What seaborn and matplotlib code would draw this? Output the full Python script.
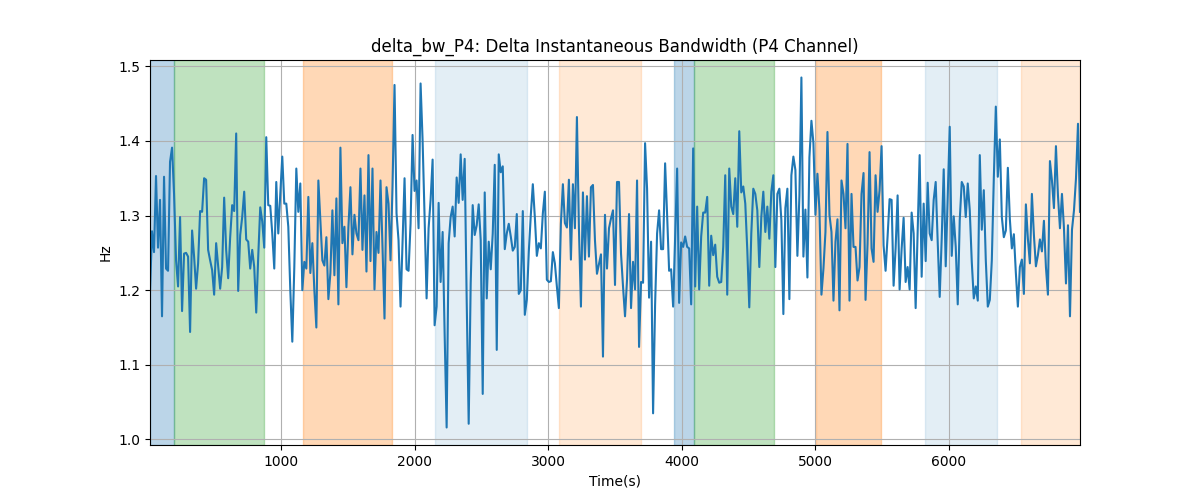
import matplotlib
matplotlib.use('Agg')
import matplotlib.pyplot as plt
import numpy as np
import seaborn as sns

# delta instantaneous bandwidth, P4 channel
bw_hz = [
    1.198, 1.279, 1.251, 1.353, 1.257, 1.321, 1.165, 1.352, 1.229, 1.226,
    1.372, 1.391, 1.329, 1.240, 1.205, 1.298, 1.172, 1.249, 1.250, 1.245,
    1.144, 1.280, 1.245, 1.202, 1.236, 1.306, 1.305, 1.350, 1.348, 1.254,
    1.240, 1.227, 1.194, 1.263, 1.233, 1.202, 1.231, 1.324, 1.254, 1.216,
    1.271, 1.314, 1.306, 1.410, 1.199, 1.274, 1.298, 1.332, 1.268, 1.265,
    1.229, 1.254,
    1.231, 1.170, 1.245, 1.311, 1.292, 1.257, 1.405, 1.314, 1.313, 1.276,
    1.229, 1.345, 1.276, 1.329, 1.379, 1.316, 1.316, 1.285, 1.200, 1.131,
    1.231, 1.363, 1.305, 1.343, 1.200, 1.238, 1.229, 1.325, 1.223, 1.263,
    1.200, 1.150, 1.347, 1.294, 1.240, 1.233, 1.271, 1.188, 1.223, 1.307,
    1.220, 1.323, 1.181, 1.391, 1.263, 1.285, 1.204, 1.285, 1.338, 1.248,
    1.301, 1.276,
    1.267, 1.363, 1.254, 1.327, 1.225, 1.381, 1.239, 1.363, 1.201, 1.278,
    1.250, 1.347, 1.258, 1.162, 1.338, 1.316, 1.240, 1.339, 1.475, 1.303,
    1.267, 1.178, 1.263, 1.350, 1.228, 1.226, 1.289, 1.408, 1.333, 1.347,
    1.283, 1.477, 1.401, 1.298, 1.189, 1.283, 1.321, 1.375, 1.153, 1.178,
    1.317, 1.211, 1.278, 1.142, 1.016, 1.263, 1.298, 1.312, 1.272, 1.351,
    1.317, 1.382,
    1.321, 1.376, 1.187, 1.021, 1.209, 1.314, 1.274, 1.287, 1.315, 1.267,
    1.061, 1.331, 1.189, 1.265, 1.228, 1.276, 1.368, 1.120, 1.382, 1.358,
    1.366, 1.255, 1.276, 1.289, 1.272, 1.253, 1.258, 1.302, 1.195, 1.200,
    1.306, 1.167, 1.187, 1.252, 1.301, 1.342, 1.298, 1.246, 1.263, 1.256,
    1.303, 1.332, 1.214, 1.211, 1.212, 1.251, 1.236, 1.205, 1.176, 1.289,
    1.342, 1.290,
    1.284, 1.348, 1.241, 1.342, 1.283, 1.432, 1.283, 1.178, 1.331, 1.241,
    1.326, 1.245, 1.338, 1.341, 1.267, 1.222, 1.235, 1.248, 1.111, 1.301,
    1.229, 1.283, 1.296, 1.307, 1.207, 1.345, 1.345, 1.249, 1.205, 1.165,
    1.214, 1.302, 1.176, 1.238, 1.201, 1.347, 1.124, 1.211, 1.210, 1.397,
    1.336, 1.190, 1.265, 1.035, 1.180, 1.276, 1.307, 1.255, 1.255, 1.370,
    1.301, 1.226,
    1.228, 1.178, 1.272, 1.363, 1.183, 1.264, 1.258, 1.272, 1.258, 1.256,
    1.181, 1.390, 1.205, 1.312, 1.201, 1.272, 1.304, 1.304, 1.325, 1.206,
    1.273, 1.247, 1.261, 1.218, 1.210, 1.211, 1.258, 1.354, 1.194, 1.363,
    1.312, 1.302, 1.350, 1.285, 1.413, 1.331, 1.339, 1.316, 1.254, 1.177,
    1.276, 1.336, 1.329, 1.307, 1.231, 1.298, 1.332, 1.278, 1.312, 1.269,
    1.332, 1.354,
    1.231, 1.329, 1.336, 1.294, 1.168, 1.310, 1.336, 1.188, 1.354, 1.379,
    1.361, 1.246, 1.326, 1.485, 1.245, 1.308, 1.217, 1.378, 1.427, 1.397,
    1.301, 1.356, 1.307, 1.194, 1.229, 1.278, 1.412, 1.301, 1.278, 1.186,
    1.265, 1.295, 1.173, 1.347, 1.329, 1.283, 1.396, 1.186, 1.329, 1.258,
    1.258, 1.213, 1.231, 1.329, 1.357, 1.187, 1.262, 1.385, 1.256, 1.238,
    1.354, 1.305,
    1.334, 1.393, 1.260, 1.226, 1.272, 1.322, 1.321, 1.206, 1.256, 1.327,
    1.201, 1.255, 1.297, 1.211, 1.231, 1.201, 1.304, 1.276, 1.176, 1.276,
    1.381, 1.218, 1.316, 1.239, 1.344, 1.276, 1.267, 1.321, 1.345, 1.265,
    1.191, 1.269, 1.362, 1.232, 1.327, 1.419, 1.246, 1.299, 1.258, 1.181,
    1.294, 1.345, 1.339, 1.298, 1.343, 1.307, 1.238, 1.189, 1.205, 1.186,
    1.381, 1.281,
    1.334, 1.240, 1.178, 1.187, 1.240, 1.350, 1.446, 1.352, 1.402, 1.298,
    1.271, 1.280, 1.364, 1.295, 1.256, 1.275, 1.223, 1.178, 1.231, 1.241,
    1.195, 1.315, 1.269, 1.236, 1.329, 1.274, 1.232, 1.247, 1.268, 1.252,
    1.293, 1.231, 1.194, 1.373, 1.347, 1.310, 1.393, 1.327, 1.283, 1.329,
    1.283, 1.209, 1.287, 1.165, 1.281, 1.307, 1.350, 1.423, 1.305,
]
t_start, t_end = 15, 6985

# labelled segments: (start, end, colour, alpha)
seg_start = [15, 195, 1158, 2150, 3083, 3940, 4090, 5008, 5820, 6541]
seg_end = [195, 872, 1827, 2842, 3692, 4090, 4692, 5496, 6361, 6985]
seg_color = ['C0', 'C2', 'C1', 'C0', 'C1', 'C0', 'C2', 'C1', 'C0', 'C1']
seg_alpha = [0.3, 0.3, 0.3, 0.12, 0.17, 0.3, 0.3, 0.3, 0.12, 0.17]

time_s = np.linspace(t_start, t_end, len(bw_hz))

fig, ax = plt.subplots(figsize=(12, 5), dpi=100)
for s, e, c, a in zip(seg_start, seg_end, seg_color, seg_alpha):
    ax.axvspan(s, e, color=c, alpha=a, lw=1)

sns.lineplot(x=time_s, y=bw_hz, ax=ax, color='C0', linewidth=1.5)
ax.set_xlim(time_s[0], time_s[-1])
ax.grid(True)
ax.set_title('delta_bw_P4: Delta Instantaneous Bandwidth (P4 Channel)')
ax.set_xlabel('Time(s)')
ax.set_ylabel('Hz')

fig.savefig('out.png')
